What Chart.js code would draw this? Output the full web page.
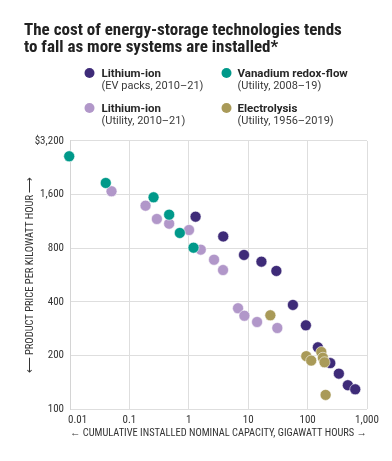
<!DOCTYPE html>
<html><head><meta charset="utf-8">
<script src="https://cdn.jsdelivr.net/npm/chart.js@4/dist/chart.umd.min.js"></script>
<style>html,body{margin:0;padding:0;background:#fff;}</style>
</head><body>
<canvas id="c" width="392" height="461"></canvas>
<script>
// ---- text ----
const titleLines = ['The cost of energy-storage technologies tends', 'to fall as more systems are installed*'];
const xAxisTitle = '\u2190 CUMULATIVE INSTALLED NOMINAL CAPACITY, GIGAWATT HOURS \u2192';
const yAxisTitle = '\u27F5 PRODUCT PRICE PER KILOWATT HOUR \u27F6';
const xTickValues = [0.01, 0.1, 1, 10, 100, 1000];
const xTickLabels = ['\u00a0\u00a0\u00a0\u00a0\u00a0\u00a00.01', '0.1', '1', '10', '100', '1,000'];
const yTickValues = [100, 200, 400, 800, 1600, 3200];
const yTickLabels = ['100', '200', '400', '800', '1,600', '$3,200'];
const seriesNames = ['Lithium-ion', 'Vanadium redox-flow', 'Lithium-ion', 'Electrolysis'];
const seriesNotes = ['(EV packs, 2010\u201321)', '(Utility, 2008\u201319)', '(Utility, 2010\u201321)', '(Utility, 1956\u20132019)'];

// ---- data: capacity (GWh) and price ($/kWh) ----
const evCapacity = [1.3, 3.8, 8.5, 16.7, 29.8, 56.6, 93.6, 149, 241, 336, 476, 634];
const evPrice    = [1202, 931, 733, 672, 596, 384, 295, 222, 181, 158, 136, 129];
const vrfCapacity = [0.0097, 0.040, 0.255, 0.467, 0.706, 1.2];
const vrfPrice    = [2626, 1859, 1545, 1234, 974, 805];
const liuCapacity = [0.05, 0.187, 0.29, 0.467, 1.01, 1.59, 2.66, 3.77, 6.74, 8.63, 14.1, 30.9];
const liuPrice    = [1670, 1386, 1167, 1098, 1012, 785, 689, 603, 368, 334, 308, 285];
const elCapacity = [23.6, 95, 115, 170, 181, 193, 201];
const elPrice    = [336, 198, 187, 209, 194, 183, 120];

const colors = ['#3e2b78', '#00998a', '#b197c9', '#a99a58'];
const FONT = "'Liberation Sans Narrow', 'Roboto Condensed', Roboto, sans-serif";
const LEGEND_FONT = "Roboto, 'Noto Sans', sans-serif";

function pts(xs, ys) { return xs.map((x, i) => ({x: x, y: ys[i]})); }

const legendPlugin = {
  id: 'customLegend',
  afterDraw(chart) {
    const ctx = chart.ctx;
    const cols = [[89.5, 101.5], [226.5, 237.5]];
    const rows = [73, 108];
    // order: [EV (col0,row0), VRF (col1,row0), LiU (col0,row1), El (col1,row1)]
    const slots = [[0, 0], [1, 0], [0, 1], [1, 1]];
    ctx.save();
    slots.forEach((s, i) => {
      const [dx, tx] = cols[s[0]];
      const cy = rows[s[1]];
      ctx.beginPath();
      ctx.arc(dx, cy, 5, 0, Math.PI * 2);
      ctx.fillStyle = colors[i];
      ctx.fill();
      ctx.textBaseline = 'alphabetic';
      ctx.textAlign = 'left';
      ctx.fillStyle = '#262626';
      ctx.font = "bold 11.5px " + LEGEND_FONT;
      ctx.fillText(seriesNames[i], tx, cy + 4);
      ctx.fillStyle = '#3a3a3a';
      ctx.font = "11px " + LEGEND_FONT;
      ctx.fillText(seriesNotes[i], tx, cy + 15.5);
    });
    ctx.restore();
  }
};

new Chart(document.getElementById('c'), {
  type: 'scatter',
  data: {
    datasets: [
      {label: seriesNames[0] + ' ' + seriesNotes[0], data: pts(evCapacity, evPrice), backgroundColor: colors[0], order: 1},
      {label: seriesNames[1] + ' ' + seriesNotes[1], data: pts(vrfCapacity, vrfPrice), backgroundColor: colors[1], order: 2},
      {label: seriesNames[2] + ' ' + seriesNotes[2], data: pts(liuCapacity, liuPrice), backgroundColor: colors[2], order: 3},
      {label: seriesNames[3] + ' ' + seriesNotes[3], data: pts(elCapacity, elPrice), backgroundColor: colors[3], order: 0}
    ]
  },
  options: {
    responsive: false,
    animation: false,
    devicePixelRatio: 1,
    clip: false,
    layout: {padding: {left: 24, right: 25, top: 0, bottom: 0}},
    elements: {point: {radius: 5.5, hoverRadius: 5.5, borderWidth: 0.8, borderColor: 'rgba(255,255,255,0.7)'}},
    plugins: {
      legend: {display: false},
      tooltip: {enabled: false},
      title: {
        display: true,
        text: titleLines,
        align: 'start',
        color: '#222',
        font: {family: FONT, size: 17, weight: 'bold', lineHeight: 0.97},
        padding: {top: 23, bottom: 85}
      }
    },
    scales: {
      x: {
        type: 'logarithmic',
        min: 0.01, max: 1000,
        afterBuildTicks: (s) => { s.ticks = xTickValues.map(v => ({value: v})); },
        afterFit: (s) => { s.height = 52; },
        ticks: {
          autoSkip: false, maxRotation: 0, padding: 1,
          color: '#333', font: {family: FONT, size: 11},
          callback: (v, i) => xTickLabels[i]
        },
        grid: {color: '#dedede', lineWidth: 1, tickLength: 4, tickColor: 'rgba(0,0,0,0)'},
        border: {display: false},
        title: {display: true, text: xAxisTitle, color: '#333', font: {family: FONT, size: 10.5}, padding: {top: 0, bottom: 21}}
      },
      y: {
        type: 'logarithmic',
        min: 100, max: 3200,
        afterBuildTicks: (s) => { s.ticks = yTickValues.map(v => ({value: v})); },
        afterFit: (s) => { s.width = 46; },
        ticks: {
          autoSkip: false, padding: 2,
          color: '#333', font: {family: FONT, size: 11},
          callback: (v, i) => yTickLabels[i]
        },
        grid: {color: '#dedede', lineWidth: 1, tickLength: 4, tickColor: 'rgba(0,0,0,0)'},
        border: {color: '#d4d4d4'},
        title: {display: true, text: yAxisTitle, color: '#333', font: {family: FONT, size: 10.5, lineHeight: 1.2}, padding: {top: 0, bottom: 0}}
      }
    }
  },
  plugins: [legendPlugin]
});
</script>
</body></html>
